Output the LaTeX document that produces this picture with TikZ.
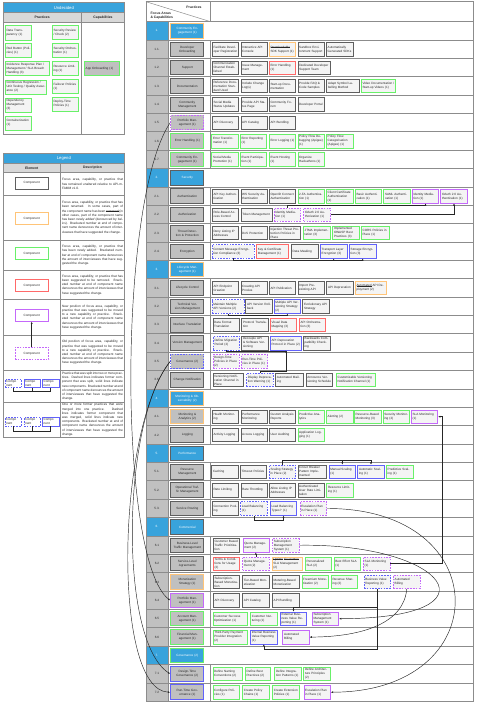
\documentclass[tikz,border=0pt]{standalone}
\usepackage{fontspec}
\setmainfont{Liberation Sans}
\usetikzlibrary{calc,positioning,arrows.meta}

\definecolor{secblue}{RGB}{56,163,220}
\definecolor{colgray}{RGB}{192,192,192}
\definecolor{headgray}{RGB}{216,216,216}
\definecolor{boxfill}{RGB}{244,244,244}
\definecolor{boxline}{RGB}{95,95,95}
\definecolor{tabline}{RGB}{140,140,140}
\definecolor{newgreen}{RGB}{105,240,105}
\definecolor{renorange}{RGB}{255,196,120}
\definecolor{remred}{RGB}{255,105,105}
\definecolor{movpurple}{RGB}{196,104,250}
\definecolor{splitblue}{RGB}{98,98,250}

\newcommand{\tfont}{\fontsize{3.1}{4.0}\selectfont}
\newlength{\strklen}
\newcommand{\strk}[1]{\settowidth{\strklen}{#1}\leavevmode
    \rlap{\rule[0.3em]{\strklen}{0.25pt}}#1}

\begin{document}
\begin{tikzpicture}[
    x=1pt, y=-1pt,
    every node/.style={font=\tfont, text=black!85},
    pr/.style={rectangle, draw=boxline, fill=boxfill, line width=0.7pt,
        text width=24pt, align=left, minimum width=26.5pt,
        minimum height=13.5pt, inner xsep=1pt, inner ysep=0.3pt},
    nw/.style={pr, draw=newgreen},
    rn/.style={pr, draw=renorange},
    rm/.style={pr, draw=remred},
    mvnew/.style={pr, draw=movpurple},
    mvold/.style={pr, draw=movpurple, dash pattern=on 1.6pt off 1.2pt},
    spnew/.style={pr, draw=splitblue},
    spold/.style={pr, draw=splitblue, dash pattern=on 1.6pt off 1.2pt},
    fa/.style={rectangle, draw=boxline, fill=colgray, line width=1pt,
        text width=31pt, align=center, minimum width=33.3pt,
        minimum height=14.5pt, inner sep=1pt},
    sec/.style={fa, fill=secblue, text=white},
    num/.style={inner sep=0pt},
    tl/.style={draw=tabline, line width=1pt},
    ttl/.style={font=\fontsize{4.2}{5}\selectfont, text=white},
    hd/.style={font=\fontsize{3.4}{4}\selectfont\bfseries, align=left},
    le/.style={rectangle, fill=white, line width=0.7pt,
        minimum width=33.6pt, minimum height=12pt},
    sb/.style={rectangle, fill=white, draw=splitblue, line width=0.7pt,
        text width=14pt, align=left, minimum width=16.5pt,
        minimum height=8.4pt, inner sep=0.8pt},
    desc/.style={text width=61pt, align=justify, inner sep=0pt,
        font=\fontsize{3.2}{4.2}\selectfont},
    cn/.style={draw=black!85, line width=0.45pt,
        -{Latex[length=2.2pt,width=1.9pt]}},
    ln/.style={draw=black!85, line width=0.45pt},
]
    \useasboundingbox (0,0) rectangle (479,702);

    % Undecided
    \fill[secblue] (3,2.7) rectangle (124.7,12.7);
    \fill[headgray] (3,12.7) rectangle (124.7,22);
    \draw[tl] (3,2.7) rectangle (124.7,134.7);
    \draw[tl] (3,12.7) -- (124.7,12.7);
    \draw[tl] (3,22) -- (124.7,22);
    \draw[tl] (81.3,12.7) -- (81.3,134.7);
    \node[ttl] (undt) at (63.85,7.7) {Undecided};
    \node[hd] (undp) at (42.15,17.35) {Practices};
    \node[hd] (undc) at (103,17.35) {Capabilities};

    \node[nw, minimum height=15pt] (u1) at (18.5,33) {Data Transparency (1)};
    \node[nw, minimum height=14pt] (u2) at (18.5,50.3) {Red Button (Policies) (1)};
    \node[nw, text width=41.5pt, minimum width=44pt, minimum height=14pt] (u3) at (27.3,68.3)
        {Incidence Response Plan / Management / SLA Breach Handling (3)};
    \node[nw, text width=39pt, minimum width=41.4pt, minimum height=14pt] (u4) at (26,87)
        {Continuous Regression / Unit Testing / Quality Assurance (2)};
    \node[nw, minimum height=14pt] (u5) at (18.5,105) {Dependency Management (3)};
    \node[nw, minimum height=14pt] (u6) at (18.5,123) {Containerization (1)};
    \node[nw, minimum height=14pt] (u7) at (65.5,32.3) {Security Review / Check (2)};
    \node[nw, minimum height=14pt] (u8) at (65.5,50.3) {Security Orchestration (1)};
    \node[nw, minimum height=14pt] (u9) at (65.5,68.3) {Resource Limiting (1)};
    \node[nw, minimum height=14pt] (u10) at (65.5,86.3) {Failover Policies (1)};
    \node[nw, minimum height=14pt] (u11) at (65.5,104) {Deploy-Time Policies (1)};
    \node[fa, draw=newgreen, align=left, text width=32pt, minimum width=34.7pt] (u12) at (101.7,68.3)
        {App Onboarding (1)};

    % Legend
    \fill[secblue] (3,153.3) rectangle (124.7,163.3);
    \fill[headgray] (3,163.3) rectangle (124.7,172.7);
    \draw[tl] (3,153.3) rectangle (124.7,437.3);
    \foreach \y in {163.3,172.7,195.3,240,270.7,299,335,370,402.3}
        \draw[tl] (3,\y) -- (124.7,\y);
    \draw[tl] (60.3,163.3) -- (60.3,437.3);
    \node[ttl] (legt) at (63.85,158.3) {Legend};
    \node[hd] (lege) at (31.7,168) {Element};
    \node[hd] (legd) at (92.5,168) {Description};

    \node[le, draw=boxline] (l1) at (31.7,183) {Component};
    \node[le, draw=renorange] (l2) at (31.7,218.7) {Component};
    \node[le, draw=newgreen] (l3) at (31.7,253.5) {Component};
    \node[le, draw=remred] (l4) at (31.7,285.8) {Component};
    \node[le, draw=movpurple] (l5) at (31.7,315.3) {Component};
    \node[le, draw=movpurple, dash pattern=on 1.6pt off 1.2pt] (l6) at (31.7,353.3) {Component};
    \draw[cn] (l6.north) -- (l5.south);

    \node[sb, dash pattern=on 1.6pt off 1.2pt] (l7a) at (13.3,383.5) {Compo\\nent};
    \node[sb] (l7b) at (32.3,383.5) {Compo\\nent};
    \node[sb] (l7c) at (50.7,383.5) {Compo\\nent};
    \coordinate (j7) at (0,391.7);
    \draw[ln] (l7a.south) |- (l7c.south |- j7) -- (l7c.south);
    \draw[ln] (l7b.south) -- (l7b.south |- j7);

    \node[sb, dash pattern=on 1.6pt off 1.2pt] (l8a) at (13.3,421.7) {Compo\\nent};
    \node[sb, dash pattern=on 1.6pt off 1.2pt] (l8b) at (32.3,421.7) {Compo\\nent};
    \node[sb] (l8c) at (50.7,421.7) {Compo\\nent};
    \coordinate (j8) at (0,431);
    \draw[ln] (l8a.south) |- (l8c.south |- j8) -- (l8c.south);
    \draw[ln] (l8b.south) -- (l8b.south |- j8);

    \node[desc] (d1) at (92.5,184) {Focus area, capability, or practice that
        has remained unaltered relative to API-m-FAMM v1.0.};
    \node[desc] (d2) at (92.5,217.6) {Focus area, capability, or practice that
        has been renamed. In some cases, part of the component name has been
        \strk{removed} (in other cases, part of the component name has been
        newly \textit{added} (denounced by italics). Bracketed number at end of
        component name denounces the amount of interviewees that have suggested
        the change.};
    \node[desc] (d3) at (92.5,255.3) {Focus area, capability, or practice that
        has been newly added. Bracketed number at end of component name
        denounces the amount of interviewees that have suggested the change.};
    \node[desc] (d4) at (92.5,284.8) {Focus area, capability, or practice that
        has been suggested to be removed. Bracketed number at end of component
        name denounces the amount of interviewees that have suggested the change.};
    \node[desc] (d5) at (92.5,317) {New position of focus area, capability,
        or practice that was suggested to be moved to a new capability or
        practice. Bracketed number at end of component name denounces the amount
        of interviewees that have suggested the change.};
    \node[desc] (d6) at (92.5,352.5) {Old position of focus area, capability,
        or practice that was suggested to be moved to a new capability or
        practice. Bracketed number at end of component name denounces the amount
        of interviewees that have suggested the change.};
    \node[desc] (d7) at (92.5,386.2) {Practice that was split into two or more
        practices. Dashed lines indicates former component that was split, solid
        lines indicate new components. Bracketed number at end of component name
        denounces the amount of interviewees that have suggested the change.};
    \node[desc] (d8) at (92.5,419.8) {One or more former practices that were
        merged into one practice. Dashed lines indicates former component that
        was merged, solid lines indicate new components. Bracketed number at end
        of component name denounces the amount of interviewees that have
        suggested the change.};

    % Main table
    \fill[colgray] (146,21.7) rectangle (168,701.4);
    \foreach \k in {1,9,14,21,24,28,35}
        \fill[secblue] (146,{21.7+(\k-1)*18.37}) rectangle (168,{21.7+\k*18.37});
    \foreach \k in {1,...,36}
        \draw[tl] (146,{21.7+\k*18.37}) -- (473,{21.7+\k*18.37});
    \foreach \a/\b in {1/8,9/13,14/20,21/23,24/27,28/34,35/37}
        \draw[tl] (210.7,{21.7+\a*18.37}) -- (210.7,{21.7+\b*18.37});
    \draw[tl] (168,21.7) -- (168,701.4);
    \draw[tl] (146,21.7) -- (473,21.7);
    \draw[tl] (210.7,1.7) -- (210.7,21.7);
    \draw[tl] (146,1.7) rectangle (473,701.4);
    \draw[tl, line width=0.5pt] (146,1.7) -- (210.7,21.7);
    \node[hd] (hp) at (194,7.5) {Practices};
    \node[hd, anchor=west] (hf) at (147,15.8) {Focus Areas\\\& Capabilities};

    % Row numbers
    \foreach \i/\t in {1/1.,9/2.,14/3.,21/4.,24/5.,28/6.,35/7.}
        \node[num, text=white] (n\i) at (157,{21.7+(\i-0.5)*18.37}) {\t};
    \foreach \i/\t in {2/1.1.,3/1.2.,4/1.3.,5/1.4.,6/1.5.,7/1.6.,8/1.7.,
        10/2.1.,11/2.2.,12/2.3.,13/2.4.,15/3.1.,16/3.2.,17/3.3.,18/3.4.,
        19/3.5.,20/3.6.,22/4.1.,23/4.2.,25/5.1.,26/5.2.,27/5.3.,
        29/6.1,30/6.2,31/6.3,32/6.4,33/6.5,34/6.6,36/7.1,37/7.2}
        \node[num] (n\i) at (157,{21.7+(\i-0.5)*18.37}) {\t};

    % Focus areas and capabilities
    \node[sec, draw=renorange] (f1) at (187.3,30.9) {Community Engagement (1)};
    \node[fa] (f11) at (187.3,49.25) {Developer Onboarding};
    \node[fa] (f12) at (187.3,67.63) {Support};
    \node[fa] (f13) at (187.3,86) {Documentation};
    \node[fa] (f14) at (187.3,104.36) {Community Management};
    \node[fa, draw=movpurple, dash pattern=on 1.6pt off 1.2pt] (f15) at (187.3,122.74) {Portfolio Management (1)};
    \node[fa, draw=newgreen] (f16) at (187.3,141.1) {Error Handling (1)};
    \node[fa, draw=newgreen] (f17) at (187.3,159.48) {Community Engagement (1)};
    \node[sec] (f2) at (187.3,177.85) {Security};
    \node[fa] (f21) at (187.3,196.2) {Authentication};
    \node[fa] (f22) at (187.3,214.6) {Authorization};
    \node[fa] (f23) at (187.3,232.96) {Threat Detection \& Protection};
    \node[fa] (f24) at (187.3,251.3) {Encryption};
    \node[sec, draw=renorange] (f3) at (187.3,269.7) {Lifecycle Management (1)};
    \node[fa] (f31) at (187.3,288.07) {Lifecycle Control};
    \node[fa] (f32) at (187.3,306.44) {Technical Version Management};
    \node[fa] (f33) at (187.3,324.8) {Interface Translation};
    \node[fa] (f34) at (187.3,343.18) {Version Management};
    \node[fa, draw=splitblue, dash pattern=on 1.6pt off 1.2pt] (f35) at (187.3,361.55) {Governance (2)};
    \node[fa] (f36) at (187.3,379.9) {Change Notification};
    \node[sec, draw=renorange] (f4) at (187.3,398.3) {Monitoring \& Observability (2)};
    \node[fa, draw=renorange] (f41) at (187.3,416.66) {Monitoring \& Analytics (2)};
    \node[fa] (f42) at (187.3,435) {Logging};
    \node[sec] (f5) at (187.3,453.4) {Performance};
    \node[fa] (f51) at (187.3,471.77) {Resource Management};
    \node[fa] (f52) at (187.3,490.14) {Operational Traffic Management};
    \node[fa] (f53) at (187.3,508.5) {Service Routing};
    \node[sec] (f6) at (187.3,526.9) {Commercial};
    \node[fa] (f61) at (187.3,545.25) {Business-Level Traffic Management};
    \node[fa] (f62) at (187.3,563.6) {Service-Level Agreements};
    \node[fa, draw=renorange] (f63) at (187.3,582) {Monetization Strategy (1)};
    \node[fa, draw=movpurple] (f64) at (187.3,600.36) {Portfolio Management (1)};
    \node[fa, draw=newgreen] (f65) at (187.3,618.73) {Account Management (1)};
    \node[fa, draw=newgreen] (f66) at (187.3,637.1) {Financial Management (1)};
    \node[sec, draw=newgreen] (f7) at (187.3,655.47) {Governance (2)};
    \node[fa, draw=splitblue] (f71) at (187.3,673.84) {Design-Time Governance (2)};
    \node[fa, draw=splitblue] (f72) at (187.3,692.2) {Run-Time Governance (1)};

    % Row 1.1 - 1.7
    \node[pr] (p11a) at (225.5,49.25) {Facilitate Developer Registration};
    \node[pr] (p11b) at (254.2,49.25) {Interactive API Console};
    \node[rn] (p11c) at (282.5,49.25) {\strk{Downloadable} SDK Support (1)};
    \node[pr] (p11d) at (311.2,49.25) {Sandbox Environment Support};
    \node[pr] (p11e) at (339.7,49.25) {Automatically Generated SDKs};

    \node[pr] (p12a) at (225.5,67.63) {Communication Channel Established};
    \node[pr] (p12b) at (254.2,67.63) {Issue Management};
    \node[rm] (p12c) at (282.5,67.63) {Error Handling (1)};
    \node[pr, text width=29.5pt, minimum width=32pt] (p12d) at (314,67.63) {Dedicated Developer Support Team};

    \node[pr] (p13a) at (225.5,86) {Reference Documentation Standard Used};
    \node[pr] (p13b) at (254.2,86) {Include Change Log(s)};
    \node[pr] (p13c) at (282.5,86) {Start-up Documentation};
    \node[pr] (p13d) at (311.2,86) {Provide FAQ \& Code Samples};
    \node[pr, text width=30pt, minimum width=32.6pt] (p13e) at (343,86) {Adapt Symbol Labelling Method};
    \node[nw, text width=32pt, minimum width=34.4pt] (p13f) at (378.5,86) {Video Documentation / Start-up Videos (1)};

    \node[pr] (p14a) at (225.5,104.36) {Social Media Status Updates};
    \node[pr] (p14b) at (254.2,104.36) {Provide API Status Page};
    \node[pr] (p14c) at (282.5,104.36) {Community Forum};
    \node[pr] (p14d) at (311.2,104.36) {Developer Portal};

    \node[pr] (p15a) at (225.5,122.74) {API Discovery};
    \node[pr] (p15b) at (254.2,122.74) {API Catalog};
    \node[pr] (p15c) at (282.5,122.74) {API Bundling};

    \node[nw] (p16a) at (225,141.1) {Error Transformation (1)};
    \node[nw] (p16b) at (253.5,141.1) {Error Reporting (1)};
    \node[nw] (p16c) at (282.5,141.1) {Error Logging (1)};
    \node[nw] (p16d) at (311.2,141.1) {Policy Flow Debugging (Apigee) (1)};
    \node[nw] (p16e) at (339.7,141.1) {Policy Flow Categorisation (Apigee) (1)};

    \node[nw] (p17a) at (225,159.48) {Social Media Promotion (1)};
    \node[nw] (p17b) at (253.5,159.48) {Event Participation (1)};
    \node[nw] (p17c) at (282.5,159.48) {Event Hosting (1)};
    \node[nw] (p17d) at (311.2,159.48) {Organize Hackathons (1)};

    % Row 2.1 - 2.4
    \node[pr] (p21a) at (225.5,196.2) {API Key Authentication};
    \node[pr] (p21b) at (254.2,196.2) {WS Security Authentication};
    \node[pr] (p21c) at (282.5,196.2) {OpenID Connect Authentication};
    \node[nw] (p21d) at (311.2,196.2) {2-FA Authentication (1)};
    \node[nw] (p21e) at (339.7,196.2) {Client Certificate Authentication (1)};
    \node[nw] (p21f) at (368.5,196.2) {Basic Authentication (1)};
    \node[nw] (p21g) at (397,196.2) {SAML Authentication (1)};
    \node[mvnew] (p21h) at (425.5,196.2) {Identity Mediation (1)};
    \node[mvnew] (p21i) at (454,196.2) {OAuth 2.0 Authentication (1)};

    \node[pr] (p22a) at (225.5,214.6) {Role-Based Access Control};
    \node[pr, text width=28.5pt, minimum width=31pt] (p22b) at (256.5,214.6) {Token Management};
    \node[mvold] (p22c) at (287.3,214.6) {Identity Mediation (1)};
    \node[mvold] (p22d) at (317,214.6) {OAuth 2.0 Authorization (1)};

    \node[pr] (p23a) at (225.5,232.96) {Deny Listing IP Addresses};
    \node[pr] (p23b) at (254.2,232.96) {DoS Protection};
    \node[pr, text width=29pt, minimum width=31.4pt] (p23c) at (285,232.96) {Injection Threat Protection Policies in Place};
    \node[nw] (p23d) at (316.7,232.96) {JTMA Implementation (3)};
    \node[nw] (p23e) at (346,232.96) {Implemented OWASP Best Practices (3)};
    \node[nw, text width=25.5pt, minimum width=28pt] (p23f) at (375.3,232.96) {CORS Policies in Place (1)};

    \node[spold, text width=39.5pt, minimum width=42pt] (p24a) at (233,251.3) {Content Message Encryption Compliance (3)};
    \node[rm, text width=29.5pt, minimum width=32pt] (p24b) at (272.7,251.3) {Key \& Certificate Management (1)};
    \node[pr] (p24c) at (304.7,251.3) {Data Masking};
    \node[spnew] (p24d) at (333.7,251.3) {Transport Layer Encryption (3)};
    \node[spnew] (p24e) at (362.7,251.3) {Storage Encryption (3)};

    % Row 3.1 - 3.6
    \node[pr] (p31a) at (225.5,288.07) {API Endpoint Creation};
    \node[pr] (p31b) at (254.2,288.07) {Creating API Proxies};
    \node[pr] (p31c) at (282.5,288.07) {API Publication};
    \node[pr] (p31d) at (311.2,288.07) {Import Pre-existing API};
    \node[pr] (p31e) at (340,288.07) {API Deprecation};
    \node[rn, text width=28.2pt, minimum width=30.7pt] (p31f) at (370.7,288.07) {\strk{Automated} API Deployment (2)};

    \node[spold, text width=29.2pt, minimum width=31.7pt] (p32a) at (228,306.44) {Maintain Multiple API Versions (2)};
    \node[pr] (p32b) at (259,306.44) {API Version Rollback};
    \node[spnew] (p32c) at (287.3,306.44) {Multiple API Versioning Strategy (2)};
    \node[pr] (p32d) at (316,306.44) {Evolutionary API Strategy};

    \node[pr] (p33a) at (226.2,324.8) {Data Format Translation};
    \node[pr] (p33b) at (255,324.8) {Protocol Translation};
    \node[rm] (p33c) at (283.5,324.8) {Visual Data Mapping (3)};
    \node[rm] (p33d) at (312.5,324.8) {API Orchestration (3)};

    \node[spold] (p34a) at (226.5,343.18) {Define Migration Period (2)};
    \node[pr] (p34b) at (255,343.18) {Decouple API \& Software Versioning};
    \node[spnew, text width=28.5pt, minimum width=31pt] (p34c) at (285.8,343.18) {API Deprecation Protocol in Place (2)};
    \node[pr] (p34d) at (316.7,343.18) {Backwards Compatibility Checking};

    \node[mvold] (p35a) at (226.2,361.55) {Design-Time Policies in Place (2)};
    \node[mvold] (p35b) at (254.3,361.55) {Run-Time Policies in Place (1)};

    \node[pr, text width=28.2pt, minimum width=30.7pt] (p36a) at (228.3,379.9) {Versioning Notification Channel in Place};
    \node[spold] (p36b) at (259.8,379.9) {Display Deprecation Warning (1)};
    \node[pr, text width=25.2pt, minimum width=27.7pt] (p36c) at (289.5,379.9) {Automated Mailing};
    \node[pr] (p36d) at (319.3,379.9) {Announce Versioning Schedule};
    \node[nw, text width=36.2pt, minimum width=38.7pt] (p36e) at (355.7,379.9) {Customizable Versioning Notification Channel (1)};

    % Row 4.1 - 4.2
    \node[pr] (p41a) at (225.5,416.66) {Health Monitoring};
    \node[pr] (p41b) at (254.2,416.66) {Performance Monitoring};
    \node[pr] (p41c) at (282.5,416.66) {Custom Analysis Reports};
    \node[nw] (p41d) at (311.2,416.66) {Predictive Analytics};
    \node[nw] (p41e) at (339.7,416.66) {Alerting (2)};
    \node[nw] (p41f) at (367.7,416.66) {Resource-Based Monitoring (3)};
    \node[nw] (p41g) at (396.3,416.66) {Security Monitoring (2)};
    \node[mvnew] (p41h) at (424.5,416.66) {SLA Monitoring (1)};

    \node[pr] (p42a) at (225.5,435) {Activity Logging};
    \node[pr] (p42b) at (254.2,435) {Access Logging};
    \node[pr] (p42c) at (282.5,435) {User Auditing};
    \node[nw] (p42d) at (311.2,435) {Application Logging (1)};

    % Row 5.1 - 5.3
    \node[pr] (p51a) at (225,471.77) {Caching};
    \node[pr] (p51b) at (253.5,471.77) {Timeout Policies};
    \node[spold] (p51c) at (282.5,471.77) {Scaling Strategy in Place (2)};
    \node[pr, text width=26.2pt, minimum width=28.7pt] (p51d) at (312.3,471.77) {Circuit Breaker Pattern Implemented};
    \node[spnew] (p51e) at (342.3,471.77) {Manual Scaling (1)};
    \node[spnew] (p51f) at (371,471.77) {Automatic Scaling (1)};
    \node[nw] (p51g) at (399.7,471.77) {Predictive Scaling (1)};

    \node[pr] (p52a) at (225.5,490.14) {Rate Limiting};
    \node[pr] (p52b) at (254.2,490.14) {Rate Throttling};
    \node[pr] (p52c) at (282.5,490.14) {Allow Listing IP Addresses};
    \node[pr] (p52d) at (311.2,490.14) {Authenticated User Rate Limitation};
    \node[nw] (p52e) at (340,490.14) {Resource Limiting (1)};

    \node[pr] (p53a) at (225.5,508.5) {Connection Pooling};
    \node[spold] (p53b) at (253.8,508.5) {Load Balancing (1)};
    \node[spnew] (p53c) at (283.5,508.5) {Load Balancing Types? (1)};
    \node[mvold] (p53d) at (313.3,508.5) {Escalation Plan in Place (1)};

    % Row 6.1 - 6.6
    \node[pr] (p61a) at (226.5,545.25) {Customer Based Traffic Prioritization};
    \node[mvnew] (p61b) at (256.3,545.25) {Quota Management (2)};
    \node[mvold] (p61c) at (285.8,545.25) {Subscription Management System (1)};

    \node[rm] (p62a) at (226.5,563.6) {Terms \& Conditions for Usage (2)};
    \node[mvold] (p62b) at (255.8,563.6) {Quota Management (2)};
    \node[rn, text width=27.8pt, minimum width=30.3pt] (p62c) at (287.2,563.6) {\strk{Uptime} \strk{Guarantee} SLA Management (2)};
    \node[nw] (p62d) at (318.5,563.6) {Personalized SLA (2)};
    \node[nw] (p62e) at (347.3,563.6) {Best Effort SLA (1)};
    \node[mvold] (p62f) at (376.7,563.6) {SLA Monitoring (1)};

    \node[pr] (p63a) at (226.5,582) {Subscription-Based Monetization};
    \node[pr] (p63b) at (255.8,582) {Tier-Based Monetization};
    \node[pr] (p63c) at (285.7,582) {Metering-Based Monetization};
    \node[nw] (p63d) at (315.2,582) {Freemium Monetization (2)};
    \node[nw] (p63e) at (344.5,582) {Revenue Sharing (2)};
    \node[spold] (p63f) at (377.3,582) {Business Value Reporting (1)};
    \node[mvold] (p63g) at (406.7,582) {Automated Billing};

    \node[pr] (p64a) at (226.5,600.36) {API Discovery};
    \node[pr] (p64b) at (255.8,600.36) {API Catalog};
    \node[pr] (p64c) at (285.7,600.36) {API Bundling};

    \node[nw, text width=32.2pt, minimum width=34.7pt] (p65a) at (230.3,618.73) {Customer Success Optimization (1)};
    \node[nw] (p65b) at (263.8,618.73) {Customer Nurturing (1)};
    \node[spnew] (p65c) at (293.5,618.73) {External Business Value Reporting (1)};
    \node[mvnew] (p65d) at (325.5,618.73) {Subscription Management System (1)};

    \node[nw, text width=31.8pt, minimum width=34.3pt] (p66a) at (230.2,637.1) {Third-Party Payment Provider Integration (2)};
    \node[spnew] (p66b) at (263.8,637.1) {Internal Business Value Reporting (1)};
    \node[mvnew] (p66c) at (296,637.1) {Automated Billing};

    % Row 7.1 - 7.2
    \node[nw, text width=27.2pt, minimum width=29.7pt] (p71a) at (227.8,673.84) {Define Naming Conventions (2)};
    \node[nw, text width=22.2pt, minimum width=24.7pt] (p71b) at (257.7,673.84) {Define Best Practices (2)};
    \node[nw] (p71c) at (288,673.84) {Define Integration Patterns (1)};
    \node[nw] (p71d) at (317,673.84) {Define Architecture Principles (2)};

    \node[nw] (p72a) at (226.2,692.2) {Configure Policies (1)};
    \node[nw] (p72b) at (255.8,692.2) {Create Policy Chains (1)};
    \node[nw] (p72c) at (285.8,692.2) {Create Extension Policies (1)};
    \node[mvnew] (p72d) at (317.2,692.2) {Escalation Plan in Place (1)};

    % Moves, splits and merges
    \coordinate (j22) at (0,205.4);
    \draw[cn] (p22c.north) -- (p22c.north |- j22) -| (p21h.south);
    \draw[cn] (p22d.east) -| (p21i.south);

    \coordinate (j24) at (0,260.1);
    \draw[cn] (p24a.south) -- (p24a.south |- j24) -| (p24e.south);
    \draw[cn] (p24d.south |- j24) -- (p24d.south);

    \draw[cn] (p32a.south) -- ++(0,1.9) -| (p32c.south);

    \coordinate (j34) at (0,351.4);
    \draw[cn] (p34a.south) -- (p34a.south |- j34) -| (p34c.south);
    \draw[ln] (p36b.north) -- ++(0,-1.9) -| (p34c.south |- j34);

    \coordinate (j51) at (0,460.2);
    \draw[cn] (p51c.north) -- (p51c.north |- j51) -| (p51f.north);
    \draw[cn] (p51e.north |- j51) -- (p51e.north);

    \draw[cn] (p53b.south) -- ++(0,5) -| (p53c.south);

    \draw[cn] (p62b.north) -- (p62b.north |- p61b.south);

    \coordinate (slac) at (442.5,563.6);
    \draw[cn] (p62f.east) -- (slac) |- (p41h.east);

    \coordinate (bv1) at (377.3,607.5);
    \coordinate (bv2) at (377.3,649);
    \draw[cn] (p63f.south) -- (bv1) -| (p65c.north);
    \draw[cn] (bv1) -- (bv2) -| (p66b.south);

    \draw[cn] (p63g.south) .. controls (404,622) and (365,636.7) .. (p66c.east);
    \draw[cn] (p61c.east) .. controls (445,543) and (505,618) .. (p65d.east);
    \draw[cn] (p53d.east) .. controls (497,508) and (497,692) .. (p72d.east);

    \draw[cn] (f15.west) .. controls (118,200) and (118,560) .. (f64.west);
    \draw[cn] (f35.west) .. controls (122,420) and (118,640) .. (f71.west);
    \draw[cn] (f35.west) .. controls (116,430) and (112,690) .. (f72.west);
\end{tikzpicture}
\end{document}
